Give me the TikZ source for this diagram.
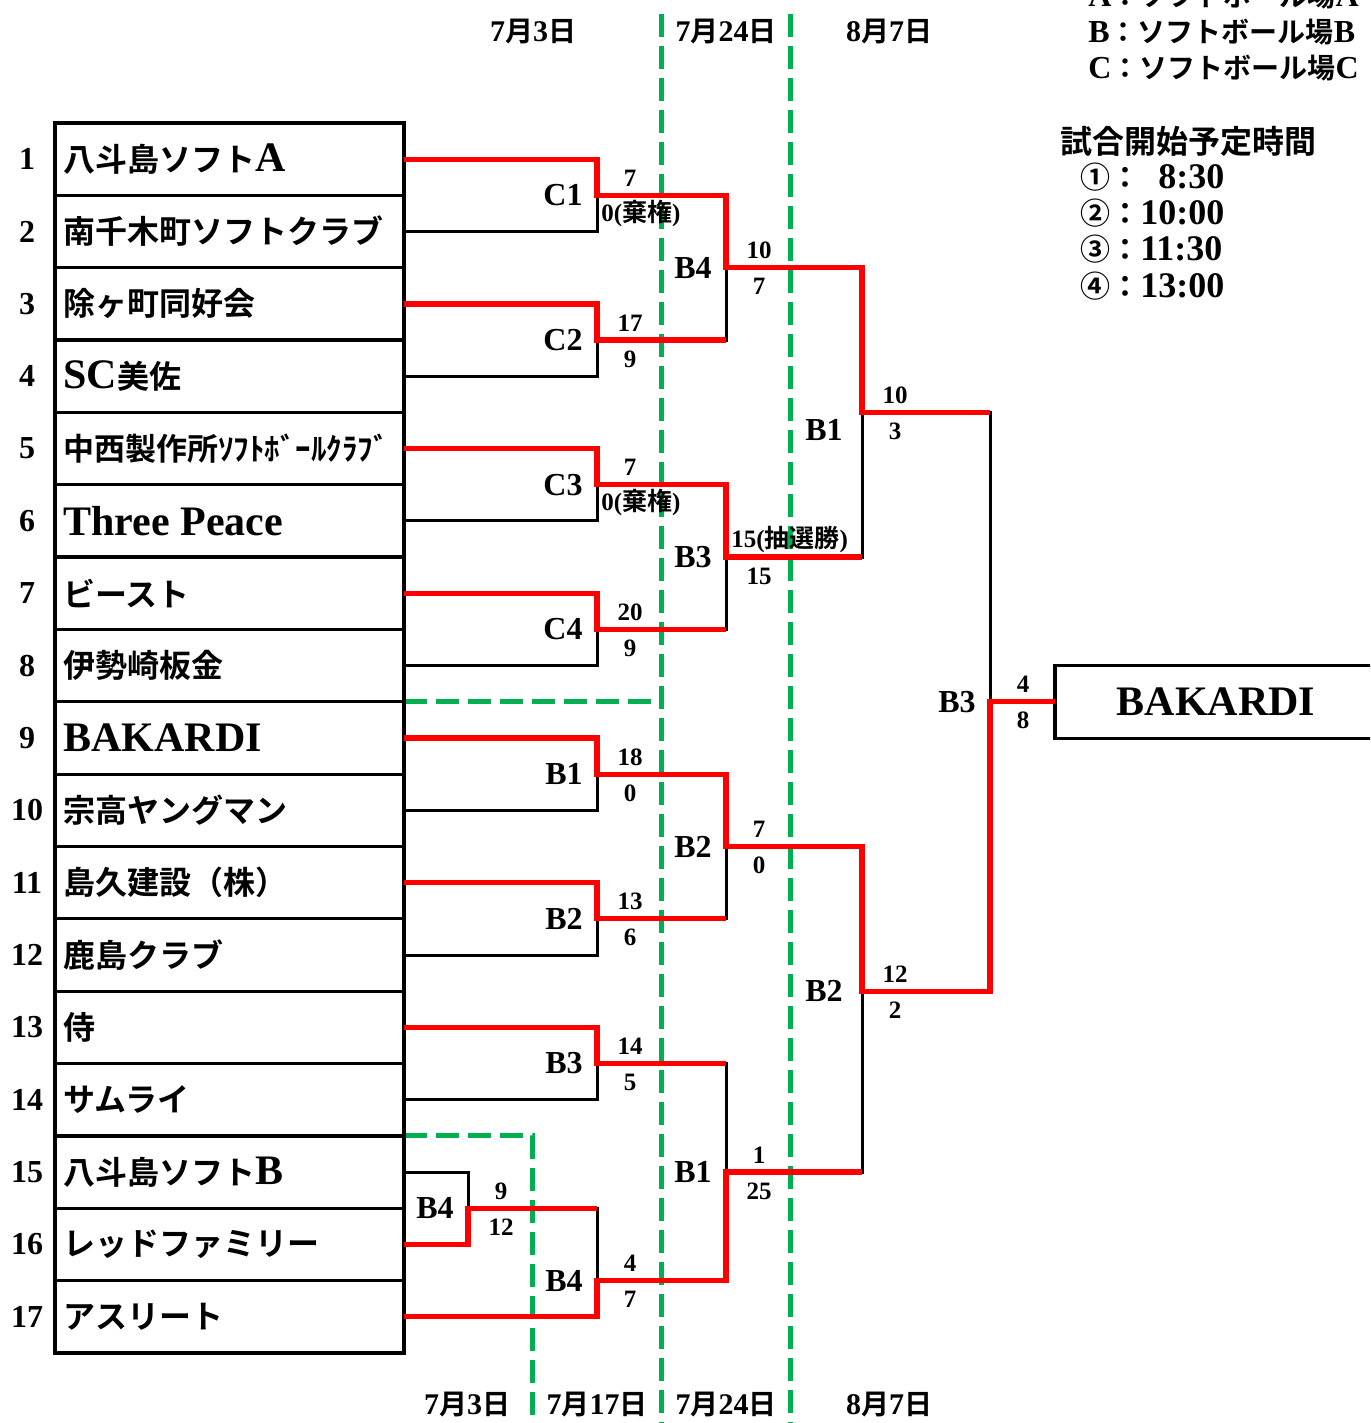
\documentclass[tikz,border=0pt]{standalone}
\usepackage{fontspec}
\usepackage{graphicx}
\setmainfont{Liberation Serif}
\newfontfamily\jpf{Noto Sans CJK JP}[BoldFont={* Bold}]
\usetikzlibrary{calc}
\newcommand\J[1]{{\jpf\bfseries #1}}
\newcommand\lat[1]{{\fontsize{21}{23}\selectfont #1}}
\definecolor{grn}{RGB}{0,176,80}
\definecolor{rd}{RGB}{255,0,0}
\newcommand\mt[4]{%
  \node[lbl] (l#1) at ($(#1)+(-14,0)$) {#2};
  \node[sc] (t#1) at ($(#1)+(33,-17)$) {#3};
  \node[sc] (b#1) at ($(#1)+(33,19)$) {#4};}
\begin{document}
\begin{tikzpicture}[x=0.5pt,y=-0.5pt,font=\bfseries,
  teambox/.style={draw, line width=1.6pt, minimum width=174.5pt, minimum height=36.18pt, inner sep=0pt, outer sep=0pt},
  loser/.style={draw=black, line width=1.5pt, line join=miter},
  winner/.style={draw=rd, line width=2.6pt, line join=miter},
  gdash/.style={draw=grn, line width=2.5pt, dash pattern=on 11.5pt off 4.5pt},
  lbl/.style={anchor=east, font=\bfseries\fontsize{16}{18}\selectfont, inner sep=0pt},
  sc/.style={font=\bfseries\fontsize{12.5}{14}\selectfont, inner sep=0pt},
  num/.style={font=\bfseries\fontsize{16}{18}\selectfont, inner sep=0pt},
  nm/.style={anchor=west, font=\bfseries\fontsize{16}{18}\selectfont, inner sep=0pt},
  date/.style={font=\bfseries\fontsize{15}{17}\selectfont, inner sep=0pt},
  leg/.style={anchor=west, font=\bfseries\fontsize{16}{18}\selectfont, inner sep=0pt}]
\useasboundingbox (0,0) rectangle (1370,1423);
\clip (0,0) rectangle (1370,1423);

% green dashed separators
\draw[gdash] (661,14) -- (661,1430);
\draw[gdash] (790,14) -- (790,1430);
\draw[gdash] (404,701.6) -- (661,701.6);
\draw[gdash] (404,1135.5) -- (532,1135.5) -- (532,1430);

% team boxes and numbers
\foreach \i/\y in {1/159.2,2/231.5,3/303.9,4/376.2,5/448.6,6/520.9,7/593.3,8/665.6,9/738.0,10/810.3,11/882.7,12/955.0,13/1027.4,14/1099.7,15/1172.1,16/1244.4,17/1316.8}{
  \node[teambox] (team\i) at (229.5,\y) {};
  \node[num] (num\i) at (27,\y) {\i};
}
\node[teambox, minimum width=172.5pt, minimum height=36.5pt, anchor=west] (champ) at (1055,701.6) {};

% junctions
\coordinate (jC1) at (597,195.3);
\coordinate (jC2) at (597,340.0);
\coordinate (jC3) at (597,484.7);
\coordinate (jC4) at (597,629.4);
\coordinate (jB1a) at (597,774.1);
\coordinate (jB2a) at (597,918.8);
\coordinate (jB3a) at (597,1063.5);
\coordinate (jB4p) at (468,1208.2);
\coordinate (jB4b) at (597,1280.6);
\coordinate (jB4t) at (726,267.6);
\coordinate (jB3t) at (726,557.0);
\coordinate (jB2b) at (726,846.5);
\coordinate (jB1b) at (726,1172.0);
\coordinate (jB1c) at (862,412.3);
\coordinate (jB2c) at (862,991.2);
\coordinate (jF) at (990,701.6);

% black bracket
\draw[loser] (team1.east) -| (jC1) |- (team2.east);
\draw[loser] (team3.east) -| (jC2) |- (team4.east);
\draw[loser] (team5.east) -| (jC3) |- (team6.east);
\draw[loser] (team7.east) -| (jC4) |- (team8.east);
\draw[loser] (team9.east) -| (jB1a) |- (team10.east);
\draw[loser] (team11.east) -| (jB2a) |- (team12.east);
\draw[loser] (team13.east) -| (jB3a) |- (team14.east);
\draw[loser] (team15.east) -| (jB4p) |- (team16.east);
\draw[loser] (jB4p) -| (jB4b) |- (team17.east);
\draw[loser] (jC1) -| (jB4t) |- (jC2);
\draw[loser] (jC3) -| (jB3t) |- (jC4);
\draw[loser] (jB1a) -| (jB2b) |- (jB2a);
\draw[loser] (jB3a) -| (jB1b) |- (jB4b);
\draw[loser] (jB4t) -| (jB1c) |- (jB3t);
\draw[loser] (jB2b) -| (jB2c) |- (jB1b);
\draw[loser] (jB1c) -| (jF) |- (jB2c);
\draw[loser] (jF) -- (champ.west);

% red winner paths
\draw[winner] (team1.east) -| (jC1) -| (jB4t) -| (jB1c) -- (jB1c -| jF);
\draw[winner] (team3.east) -| (jC2) -- (jC2 -| jB4t);
\draw[winner] (team5.east) -| (jC3) -| (jB3t) -- (jB3t -| jB1c);
\draw[winner] (team7.east) -| (jC4) -- (jC4 -| jB3t);
\draw[winner] (team9.east) -| (jB1a) -| (jB2b) -| (jB2c) -| (jF) -- (champ.west);
\draw[winner] (team11.east) -| (jB2a) -- (jB2a -| jB2b);
\draw[winner] (team13.east) -| (jB3a) -- (jB3a -| jB1b);
\draw[winner] (team16.east) -| (jB4p) -- (jB4p -| jB4b);
\draw[winner] (team17.east) -| (jB4b) -| (jB1b) -- (jB1b -| jB2c);

% team names
\node[nm] (name1) at (63,159.2) {\J{八斗島ソフト}\lat{A}};
\node[nm] (name2) at (63,231.5) {\J{南千木町ソフトクラブ}};
\node[nm] (name3) at (63,303.9) {\J{除ヶ町同好会}};
\node[nm] (name4) at (63,376.2) {\lat{SC}\J{美佐}};
\node[nm, font=\bfseries\fontsize{15.5}{17}\selectfont] (name5) at (63,448.6) {\J{中西製作所ｿﾌﾄﾎﾞｰﾙｸﾗﾌﾞ}};
\node[nm] (name6) at (63,520.9) {\lat{Three Peace}};
\node[nm] (name7) at (63,593.3) {\J{ビースト}};
\node[nm] (name8) at (63,665.6) {\J{伊勢崎板金}};
\node[nm] (name9) at (63,738.0) {\lat{BAKARDI}};
\node[nm] (name10) at (63,810.3) {\J{宗高ヤングマン}};
\node[nm] (name11) at (63,882.7) {\J{島久建設（株）}};
\node[nm] (name12) at (63,955.0) {\J{鹿島クラブ}};
\node[nm] (name13) at (63,1027.4) {\J{侍}};
\node[nm] (name14) at (63,1099.7) {\J{サムライ}};
\node[nm] (name15) at (63,1172.1) {\J{八斗島ソフト}\lat{B}};
\node[nm] (name16) at (63,1244.4) {\J{レッドファミリー}};
\node[nm] (name17) at (63,1316.8) {\J{アスリート}};
\node[nm, anchor=center] (champname) at (1216,701.6) {\lat{BAKARDI}};

% match labels and scores
\node[lbl] (ljC1) at ($(jC1)+(-14,0)$) {C1};
\node[sc] (tjC1) at ($(jC1)+(33,-17)$) {7};
\node[sc, anchor=west] (bjC1) at ($(jC1)+(4,18)$) {0(\J{棄権})};
\mt{jC2}{C2}{17}{9}
\node[lbl] (ljC3) at ($(jC3)+(-14,0)$) {C3};
\node[sc] (tjC3) at ($(jC3)+(33,-17)$) {7};
\node[sc, anchor=west] (bjC3) at ($(jC3)+(4,18)$) {0(\J{棄権})};
\mt{jC4}{C4}{20}{9}
\mt{jB1a}{B1}{18}{0}
\mt{jB2a}{B2}{13}{6}
\mt{jB3a}{B3}{14}{5}
\mt{jB4p}{B4}{9}{12}
\mt{jB4b}{B4}{4}{7}
\mt{jB4t}{B4}{10}{7}
\node[lbl] (ljB3t) at ($(jB3t)+(-14,0)$) {B3};
\node[sc, anchor=west] (tjB3t) at ($(jB3t)+(5,-17)$) {15(\J{抽選勝})};
\node[sc] (bjB3t) at ($(jB3t)+(33,19)$) {15};
\mt{jB2b}{B2}{7}{0}
\mt{jB1b}{B1}{1}{25}
\node[lbl] (ljB1c) at ($(jB1c)+(-19,18)$) {B1};
\node[sc] (tjB1c) at ($(jB1c)+(33,-17)$) {10};
\node[sc] (bjB1c) at ($(jB1c)+(33,19)$) {3};
\node[lbl] (ljB2c) at ($(jB2c)+(-19,0)$) {B2};
\node[sc] (tjB2c) at ($(jB2c)+(33,-17)$) {12};
\node[sc] (bjB2c) at ($(jB2c)+(33,19)$) {2};
\mt{jF}{B3}{4}{8}

% dates
\node[date] (dt1) at (533,32) {7\J{\fontsize{14}{16}\selectfont 月}3\J{\fontsize{14}{16}\selectfont 日}};
\node[date] (dt2) at (726,32) {7\J{\fontsize{14}{16}\selectfont 月}24\J{\fontsize{14}{16}\selectfont 日}};
\node[date] (dt3) at (889,32) {8\J{\fontsize{14}{16}\selectfont 月}7\J{\fontsize{14}{16}\selectfont 日}};
\node[date] (db1) at (467,1405) {7\J{\fontsize{14}{16}\selectfont 月}3\J{\fontsize{14}{16}\selectfont 日}};
\node[date] (db2) at (597,1405) {7\J{\fontsize{14}{16}\selectfont 月}17\J{\fontsize{14}{16}\selectfont 日}};
\node[date] (db3) at (726,1405) {7\J{\fontsize{14}{16}\selectfont 月}24\J{\fontsize{14}{16}\selectfont 日}};
\node[date] (db4) at (889,1405) {8\J{\fontsize{14}{16}\selectfont 月}7\J{\fontsize{14}{16}\selectfont 日}};

% legend
\node[leg] (legA) at (1088,-4) {A\J{\fontsize{14}{16}\selectfont ：ソフトボール場}A};
\node[leg] (legB) at (1088,32) {B\J{\fontsize{14}{16}\selectfont ：ソフトボール場}B};
\node[leg] (legC) at (1088,68) {C\J{\fontsize{14}{16}\selectfont ：ソフトボール場}C};
\node[leg] (legT) at (1060,141) {\J{試合開始予定時間}};
\node[leg] (time1) at (1080,177) {\J{\fontsize{15}{17}\selectfont ①：}{\fontsize{18}{20}\selectfont\hspace{9pt}8:30}};
\node[leg] (time2) at (1080,213) {\J{\fontsize{15}{17}\selectfont ②：}{\fontsize{18}{20}\selectfont 10:00}};
\node[leg] (time3) at (1080,249) {\J{\fontsize{15}{17}\selectfont ③：}{\fontsize{18}{20}\selectfont 11:30}};
\node[leg] (time4) at (1080,286) {\J{\fontsize{15}{17}\selectfont ④：}{\fontsize{18}{20}\selectfont 13:00}};
\end{tikzpicture}
\end{document}
